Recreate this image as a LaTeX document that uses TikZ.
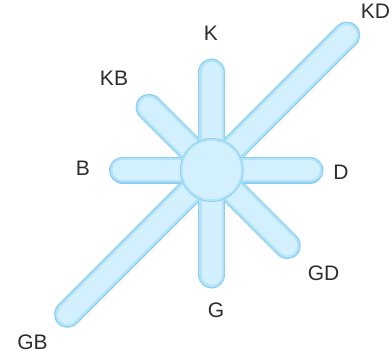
\documentclass[tikz,border=0pt]{standalone}
\usepackage{fontspec}
\setmainfont{Liberation Sans}
\usepackage{tikz}
\usepackage{xcolor}
\definecolor{barfill}{RGB}{210,240,253}
\definecolor{barmid}{RGB}{180,227,249}
\definecolor{baredge}{RGB}{140,208,241}
\definecolor{labelgray}{RGB}{45,45,45}

\begin{document}
\begin{tikzpicture}[
        x=1pt, y=-1pt,
        spokeedge/.style={line cap=round, line width=27pt, draw=baredge},
        spokemid/.style={line cap=round, line width=24.5pt, draw=barmid},
        spokefill/.style={line cap=round, line width=20pt, draw=barfill},
        hubnode/.style={circle, fill=barfill, draw=barmid, line width=2.5pt, minimum size=61pt, inner sep=0pt},
        dirlabel/.style={text=labelgray, font=\fontsize{21}{25}\selectfont, inner sep=0pt}
    ]
        \useasboundingbox (0, 0) rectangle (392, 357);

        % Spoke ends
        \coordinate (o) at (211.7, 170);
        \coordinate (k) at (211.7, 72);
        \coordinate (g) at (211.7, 275);
        \coordinate (b) at (122.5, 170);
        \coordinate (d) at (310, 170);
        \coordinate (kb) at (149, 107.3);
        \coordinate (gd) at (287.3, 245.6);
        \coordinate (kd) at (346.8, 35);
        \coordinate (gb) at (67.5, 314.3);

        % Spokes
        \foreach \e in {k, g, b, d, kb, gd, kd, gb}
            \draw[spokeedge] (o) -- (\e);
        \foreach \e in {k, g, b, d, kb, gd, kd, gb}
            \draw[spokemid] (o) -- (\e);
        \foreach \e in {k, g, b, d, kb, gd, kd, gb}
            \draw[spokefill] (o) -- (\e);

        % Hub
        \node[hubnode] (hub) at (o) {};
        \draw[baredge, line width=0.8pt] (hub.center) circle (31.5);

        % Labels
        \node[dirlabel] (lk) at (211, 33) {K};
        \node[dirlabel] (lkb) at (114, 78) {KB};
        \node[dirlabel] (lb) at (83, 168) {B};
        \node[dirlabel] (ld) at (341, 172) {D};
        \node[dirlabel] (lgd) at (323.5, 273) {GD};
        \node[dirlabel] (lg) at (216, 310) {G};
        \node[dirlabel] (lgb) at (32.5, 342.5) {GB};
        \node[dirlabel] (lkd) at (375.5, 11) {KD};
    \end{tikzpicture}
\end{document}
